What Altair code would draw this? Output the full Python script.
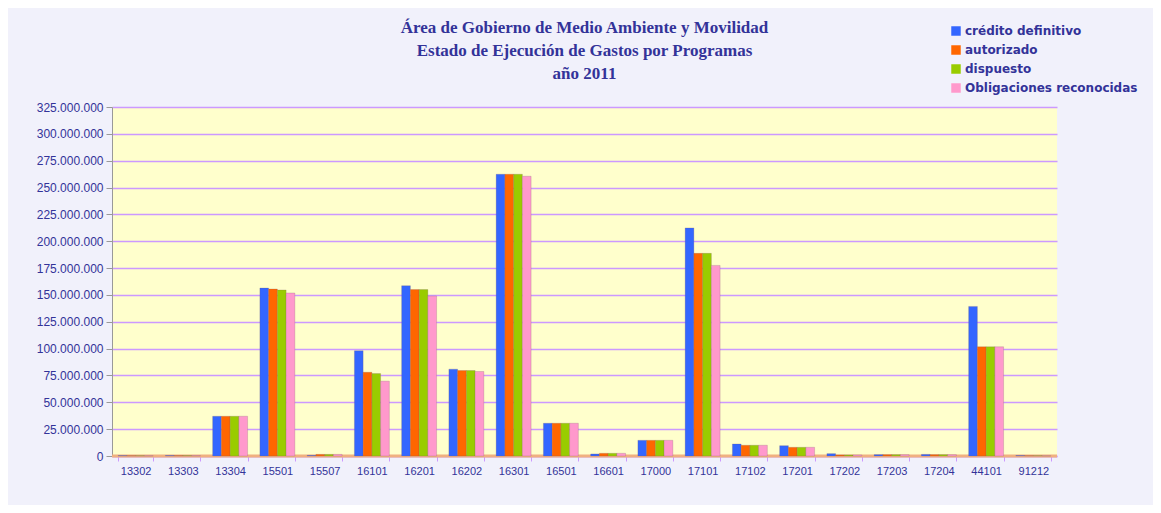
import altair as alt
import pandas as pd

categories = ["13302", "13303", "13304", "15501", "15507", "16101", "16201", "16202",
              "16301", "16501", "16601", "17000", "17101", "17102", "17201", "17202",
              "17203", "17204", "44101", "91212"]
series = ["crédito definitivo", "autorizado", "dispuesto", "Obligaciones reconocidas"]
colors = ["#3366FF", "#FF6600", "#99CC00", "#FF99CC"]

credito = [0.4, 0.5, 37.0, 156.4, 0.6, 98.0, 158.6, 80.9, 262.4, 30.5, 1.9, 14.6,
           212.4, 11.2, 9.6, 2.2, 1.3, 1.5, 139.3, 0.5]
autorizado = [0.3, 0.4, 37.0, 155.5, 1.5, 78.0, 155.0, 79.6, 262.4, 30.5, 2.5, 14.6,
              188.7, 10.0, 8.1, 1.0, 1.3, 1.3, 101.7, 0.3]
dispuesto = [0.3, 0.4, 37.0, 154.6, 1.5, 76.8, 155.0, 79.6, 262.4, 30.5, 2.5, 14.6,
             188.7, 10.0, 8.1, 1.0, 1.3, 1.3, 101.7, 0.3]
obligaciones = [0.3, 0.4, 37.0, 151.8, 1.5, 69.7, 149.0, 78.7, 260.5, 30.5, 2.5, 14.6,
                177.5, 10.0, 8.1, 1.0, 1.3, 1.3, 101.7, 0.2]
y_ticks = [0, 25, 50, 75, 100, 125, 150, 175, 200, 225, 250, 275, 300, 325]

title_lines = ["Área de Gobierno de Medio Ambiente y Movilidad",
               "Estado de Ejecución de Gastos por Programas",
               "año 2011"]

rows = []
for s, vals in zip(series, [credito, autorizado, dispuesto, obligaciones]):
    for c, v in zip(categories, vals):
        rows.append({"programa": c, "serie": s, "valor": v * 1_000_000})
df = pd.DataFrame(rows)

TXT = "#333399"

y_axis = alt.Axis(values=[t * 1_000_000 for t in y_ticks],
                  labelExpr="replace(format(datum.value, ','), regexp(',', 'g'), '.')",
                  labelOverlap=False,
                  labelFont="Liberation Sans", labelFontSize=12, labelColor=TXT,
                  domainColor="#999999", tickColor="#999999", tickSize=6,
                  labelPadding=3, gridColor="#CC99FF", gridWidth=1.5)
y_scale = alt.Scale(domain=[0, 325_000_000], nice=False)

bars = alt.Chart(df).mark_bar(stroke="#7A5A6A", strokeWidth=0.4, strokeOpacity=0.6).encode(
    x=alt.X("programa:N", sort=categories, title=None,
            scale=alt.Scale(paddingInner=0.26, paddingOuter=0.13),
            axis=alt.Axis(labelAngle=0, labelFont="Liberation Sans", labelFontSize=11,
                          labelColor=TXT, domainColor="#CC99FF", domainWidth=1.5,
                          tickColor="#CC99FF", tickBand="extent", tickSize=5,
                          labelPadding=4, grid=False)),
    xOffset=alt.XOffset("serie:N", sort=series),
    y=alt.Y("valor:Q", title=None, scale=y_scale, axis=y_axis),
    color=alt.Color("serie:N", sort=series,
                    scale=alt.Scale(domain=series, range=colors),
                    legend=alt.Legend(title=None, orient="none", legendX=838, legendY=-82,
                                      symbolType="square", symbolSize=90,
                                      symbolStrokeWidth=0, labelFont="DejaVu Sans",
                                      labelFontWeight="bold", labelFontSize=12,
                                      labelLimit=300,
                                      labelColor=TXT, rowPadding=7, labelOffset=3)),
)

floor = alt.Chart(pd.DataFrame({"v": [0]})).mark_rule(color="#F0B080", strokeWidth=3).encode(
    y=alt.Y("v:Q", title=None, scale=y_scale, axis=y_axis))

chart = alt.layer(floor, bars).properties(
    width=945, height=349,
    background="#F1F1FB",
    padding={"left": 104, "top": 99, "right": 96, "bottom": 49},
    autosize=alt.AutoSizeParams(type="none"),
    title=alt.TitleParams(text=title_lines, font="Liberation Serif", fontSize=17,
                          fontWeight="bold", color=TXT, lineHeight=23, anchor="middle",
                          offset=0, dy=58),
).configure_view(fill="#FFFFCC", stroke=None)

chart.save("out.html", embed_options={"renderer": "svg", "actions": False})
